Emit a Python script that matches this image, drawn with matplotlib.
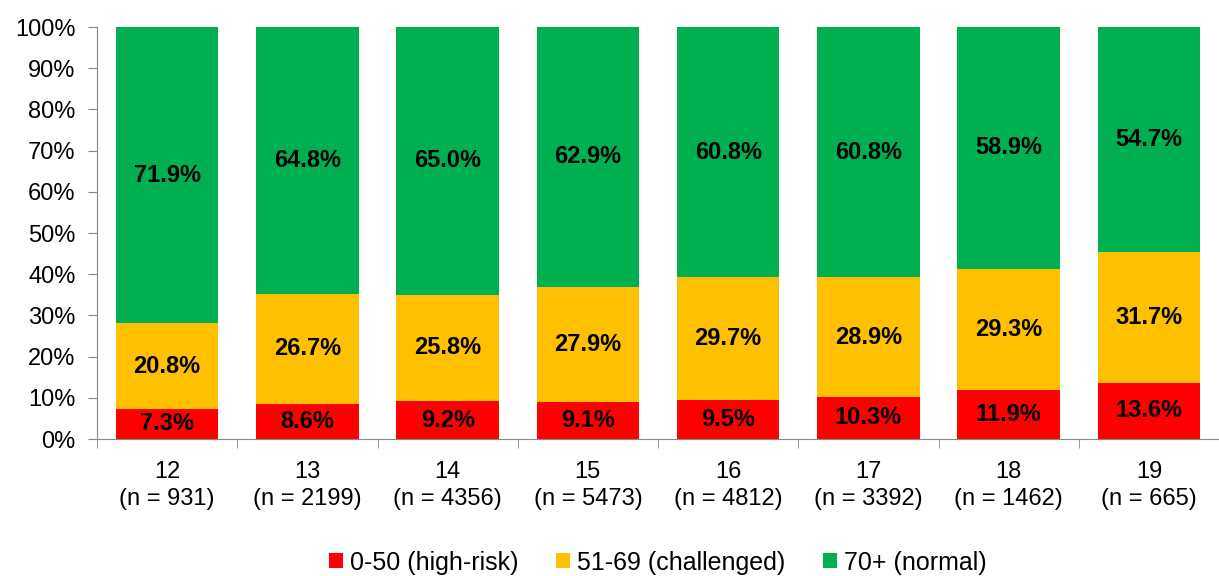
import numpy as np
import matplotlib.pyplot as plt

plt.rcParams['font.family'] = ['Liberation Sans', 'DejaVu Sans']

ages = ['12', '13', '14', '15', '16', '17', '18', '19']
counts = [931, 2199, 4356, 5473, 4812, 3392, 1462, 665]
high_risk = [7.3, 8.6, 9.2, 9.1, 9.5, 10.3, 11.9, 13.6]
challenged = [20.8, 26.7, 25.8, 27.9, 29.7, 28.9, 29.3, 31.7]
normal = [71.9, 64.8, 65.0, 62.9, 60.8, 60.8, 58.9, 54.7]

series = [(high_risk, '#FF0000', '0-50 (high-risk)'),
          (challenged, '#FFC000', '51-69 (challenged)'),
          (normal, '#00B050', '70+ (normal)')]

fig = plt.figure(figsize=(12.19, 5.76), dpi=100)
ax = fig.add_axes([97/1219, 137/576, 1122/1219, 412/576])

x = np.arange(len(ages))
bottom = np.zeros(len(ages))
for vals, color, name in series:
    vals = np.array(vals)
    ax.bar(x, vals, 0.73, bottom=bottom, color=color, label=name)
    for xi, b, v in zip(x, bottom, vals):
        ax.text(xi, b + v / 2, '%.1f%%' % v, ha='center', va='center',
                fontsize=17, fontweight='bold', color='black')
    bottom += vals

ax.set_ylim(0, 100)
ax.set_xlim(-0.5, 7.43)
ax.set_yticks(np.arange(0, 101, 10))
ax.set_yticklabels(['%d%%' % v for v in range(0, 101, 10)], fontsize=17)
ax.set_xticks(x)
ax.set_xticklabels(['%s\n(n = %d)' % (a, n) for a, n in zip(ages, counts)],
                   fontsize=17, linespacing=1.3)
ax.set_xticks(np.arange(-0.5, 8, 1), minor=True)
ax.tick_params(axis='x', which='major', length=0, pad=16)
ax.tick_params(axis='x', which='minor', length=6.5, color='#888888')
ax.tick_params(axis='y', length=6.5, color='#888888', pad=9)
for s in ['top', 'right']:
    ax.spines[s].set_visible(False)
ax.spines['left'].set_color('#888888')
ax.spines['bottom'].set_color('#888888')

ax.legend(loc='center', bbox_to_anchor=(0.5, -0.3), ncol=3, frameon=False,
          fontsize=18, handlelength=0.55, handleheight=0.55, handletextpad=0.3,
          columnspacing=1.5)

fig.savefig('out.png', dpi=100)
